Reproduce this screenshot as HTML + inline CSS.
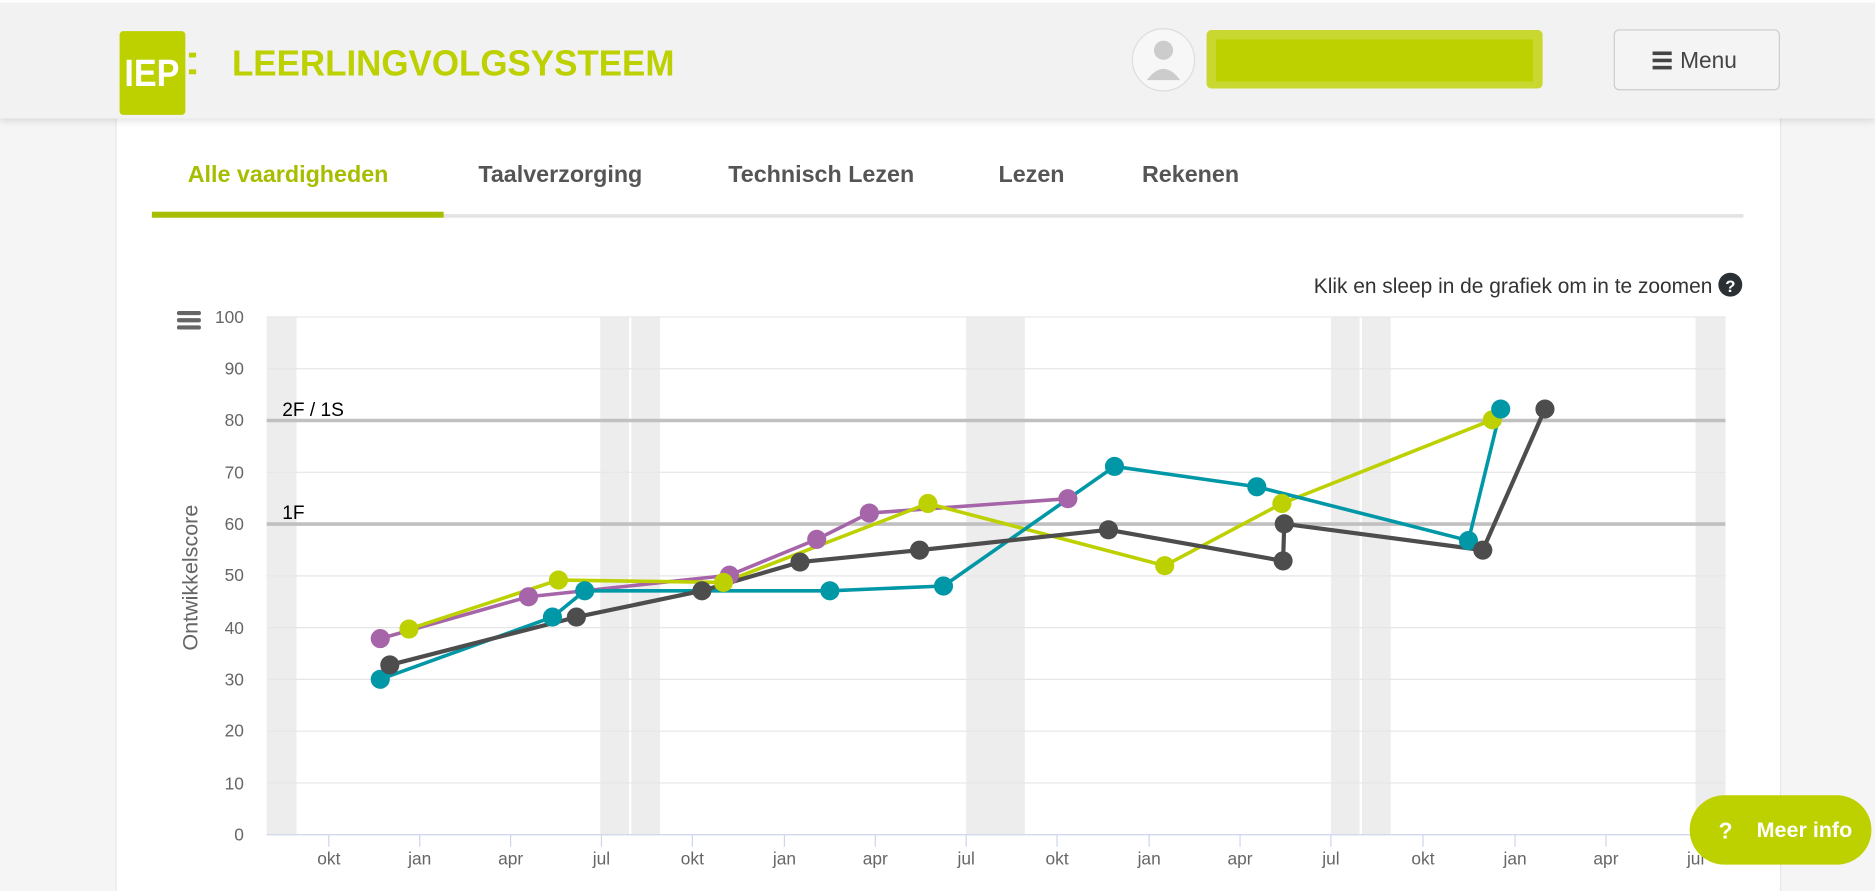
<!DOCTYPE html>
<html><head><meta charset="utf-8"><style>
html,body{margin:0;padding:0;width:1875px;height:891px;overflow:hidden;background:#f5f5f5}
svg{display:block}
text{font-family:"Liberation Sans",sans-serif}
</style></head><body>
<svg width="1875" height="891" viewBox="0 0 1568 745" xmlns="http://www.w3.org/2000/svg">
<defs><filter id="sh" x="-5%" y="-20%" width="110%" height="160%"><feDropShadow dx="0" dy="2" stdDeviation="3" flood-color="#000" flood-opacity="0.12"/></filter></defs>
<rect width="1568" height="745" fill="#f5f5f5"/>
<rect x="97" y="90" width="1392" height="660" fill="#fff" stroke="#e6e6e6"/>
<rect x="0" y="2" width="1568" height="97" fill="#f2f2f2" filter="url(#sh)"/>
<rect x="0" y="0" width="1568" height="2" fill="#fff"/>
<rect x="100" y="26" width="55" height="70" fill="#bdd000" rx="3"/>
<text x="127" y="72" font-size="32" font-weight="bold" fill="#fff" text-anchor="middle" textLength="46" lengthAdjust="spacingAndGlyphs">IEP</text>
<rect x="158" y="44" width="6" height="4" fill="#bdd000"/><rect x="158" y="58" width="6" height="4" fill="#bdd000"/>
<text x="194" y="63" font-size="30" fill="#bdd000" textLength="370" lengthAdjust="spacingAndGlyphs" font-weight="bold">LEERLINGVOLGSYSTEEM</text>
<circle cx="973" cy="50" r="26" fill="#f7f7f7" stroke="#ddd"/>
<circle cx="973" cy="42" r="8" fill="#ccc"/><path d="M959 67 Q973 48 987 67 Z" fill="#ccc"/>
<rect x="1009" y="25" width="281" height="49" rx="4" fill="#c8d830"/>
<rect x="1017" y="33" width="265" height="35" fill="#bdd000"/>
<rect x="1350" y="25" width="138" height="50" rx="4" fill="#f4f4f4" stroke="#ccc"/>
<rect x="1382" y="43" width="16" height="3" fill="#444"/><rect x="1382" y="49" width="16" height="3" fill="#444"/><rect x="1382" y="55" width="16" height="3" fill="#444"/>
<text x="1405" y="57" font-size="19" fill="#444">Menu</text>
<g font-size="19.5" font-weight="bold" fill="#555">
<text x="157" y="152" fill="#a6bd00">Alle vaardigheden</text>
<text x="400" y="152">Taalverzorging</text>
<text x="609" y="152">Technisch Lezen</text>
<text x="835" y="152">Lezen</text>
<text x="955" y="152">Rekenen</text>
</g>
<rect x="127" y="179" width="1331" height="3" fill="#e3e3e3"/>
<rect x="127" y="177" width="244" height="5" fill="#a6bd00"/>
<text x="1432" y="245" font-size="17.5" fill="#333" text-anchor="end">Klik en sleep in de grafiek om in te zoomen</text>
<circle cx="1447" cy="238" r="10" fill="#2b3035"/><text x="1447" y="244" font-size="14" font-weight="bold" fill="#fff" text-anchor="middle">?</text>
<g fill="#ededed">
<rect x="223" y="265" width="25" height="433"/>
<rect x="502" y="265" width="24" height="433"/><rect x="528" y="265" width="24" height="433"/>
<rect x="808" y="265" width="49" height="433"/>
<rect x="1113" y="265" width="24" height="433"/><rect x="1139" y="265" width="24" height="433"/>
<rect x="1418" y="265" width="25" height="433"/>
</g>
<g stroke="#e6e6e6" stroke-width="1">
<line x1="223" x2="1443" y1="265" y2="265"/><line x1="223" x2="1443" y1="308.3" y2="308.3"/>
<line x1="223" x2="1443" y1="394.9" y2="394.9"/><line x1="223" x2="1443" y1="481.5" y2="481.5"/>
<line x1="223" x2="1443" y1="524.8" y2="524.8"/><line x1="223" x2="1443" y1="568.1" y2="568.1"/>
<line x1="223" x2="1443" y1="611.4" y2="611.4"/><line x1="223" x2="1443" y1="654.7" y2="654.7"/>
</g>
<line x1="223" x2="1443" y1="351.6" y2="351.6" stroke="#c0c0c0" stroke-width="3"/>
<line x1="223" x2="1443" y1="438.2" y2="438.2" stroke="#c0c0c0" stroke-width="3"/>
<line x1="223" x2="1443" y1="698" y2="698" stroke="#ccd6eb" stroke-width="1"/>
<text x="236" y="348" font-size="16" fill="#000">2F / 1S</text>
<text x="236" y="434" font-size="16" fill="#000">1F</text>
<g font-size="14.5" fill="#666" text-anchor="end">
<text x="204" y="270">100</text><text x="204" y="313">90</text><text x="204" y="356">80</text><text x="204" y="400">70</text>
<text x="204" y="443">60</text><text x="204" y="486">50</text><text x="204" y="530">40</text><text x="204" y="573">30</text>
<text x="204" y="616">20</text><text x="204" y="660">10</text><text x="204" y="703">0</text>
</g>
<g fill="#666"><rect x="148" y="260" width="20" height="3.5" rx="1.5"/><rect x="148" y="266" width="20" height="3.5" rx="1.5"/><rect x="148" y="272" width="20" height="3.5" rx="1.5"/></g>
<text transform="translate(165,483) rotate(-90)" font-size="18" fill="#666" text-anchor="middle">Ontwikkelscore</text>
<g stroke="#ccd6eb"><line x1="275" x2="275" y1="698" y2="708"/><line x1="351" x2="351" y1="698" y2="708"/><line x1="427" x2="427" y1="698" y2="708"/><line x1="503" x2="503" y1="698" y2="708"/><line x1="579" x2="579" y1="698" y2="708"/><line x1="656" x2="656" y1="698" y2="708"/><line x1="732" x2="732" y1="698" y2="708"/><line x1="808" x2="808" y1="698" y2="708"/><line x1="884" x2="884" y1="698" y2="708"/><line x1="961" x2="961" y1="698" y2="708"/><line x1="1037" x2="1037" y1="698" y2="708"/><line x1="1113" x2="1113" y1="698" y2="708"/><line x1="1190" x2="1190" y1="698" y2="708"/><line x1="1267" x2="1267" y1="698" y2="708"/><line x1="1343" x2="1343" y1="698" y2="708"/><line x1="1418" x2="1418" y1="698" y2="708"/></g>
<g font-size="14.5" fill="#666" text-anchor="middle">
<text x="275" y="723">okt</text><text x="351" y="723">jan</text><text x="427" y="723">apr</text><text x="503" y="723">jul</text>
<text x="579" y="723">okt</text><text x="656" y="723">jan</text><text x="732" y="723">apr</text><text x="808" y="723">jul</text>
<text x="884" y="723">okt</text><text x="961" y="723">jan</text><text x="1037" y="723">apr</text><text x="1113" y="723">jul</text>
<text x="1190" y="723">okt</text><text x="1267" y="723">jan</text><text x="1343" y="723">apr</text><text x="1418" y="723">jul</text>
</g>
<g fill="none" stroke-width="3" stroke-linejoin="round">
<polyline stroke="#a665a8" points="318,534 442,499 610,481 683,451 727,429 893,417"/>
<polyline stroke="#bdd000" points="342,526 467,485 605,487 776,421 974,473 1072,421 1248,351"/>
<polyline stroke="#0097a7" points="318,568 462,516 489,494 694,494 789,490 932,390 1051,407 1228,452 1255,342"/>
<polyline stroke="#4d4d4d" stroke-width="3.5" points="326,556 482,516 587,494 669,470 769,460 927,443 1073,469 1074,438 1240,460 1292,342"/>
</g>
<g fill="#a665a8"><circle cx="318" cy="534" r="8"/><circle cx="442" cy="499" r="8"/><circle cx="610" cy="481" r="8"/><circle cx="683" cy="451" r="8"/><circle cx="727" cy="429" r="8"/><circle cx="893" cy="417" r="8"/></g>
<g fill="#bdd000"><circle cx="342" cy="526" r="8"/><circle cx="467" cy="485" r="8"/><circle cx="605" cy="487" r="8"/><circle cx="776" cy="421" r="8"/><circle cx="974" cy="473" r="8"/><circle cx="1072" cy="421" r="8"/><circle cx="1248" cy="351" r="8"/></g>
<g fill="#0097a7"><circle cx="318" cy="568" r="8"/><circle cx="462" cy="516" r="8"/><circle cx="489" cy="494" r="8"/><circle cx="694" cy="494" r="8"/><circle cx="789" cy="490" r="8"/><circle cx="932" cy="390" r="8"/><circle cx="1051" cy="407" r="8"/><circle cx="1228" cy="452" r="8"/><circle cx="1255" cy="342" r="8"/></g>
<g fill="#4d4d4d"><circle cx="326" cy="556" r="8"/><circle cx="482" cy="516" r="8"/><circle cx="587" cy="494" r="8"/><circle cx="669" cy="470" r="8"/><circle cx="769" cy="460" r="8"/><circle cx="927" cy="443" r="8"/><circle cx="1073" cy="469" r="8"/><circle cx="1074" cy="438" r="8"/><circle cx="1240" cy="460" r="8"/><circle cx="1292" cy="342" r="8"/></g>
<rect x="1413" y="665" width="152" height="58" rx="29" fill="#bdd000"/>
<text x="1443" y="701" font-size="19" font-weight="bold" fill="#fff" text-anchor="middle">?</text>
<text x="1469" y="700" font-size="18" font-weight="bold" fill="#fff">Meer info</text>
</svg>
</body></html>
